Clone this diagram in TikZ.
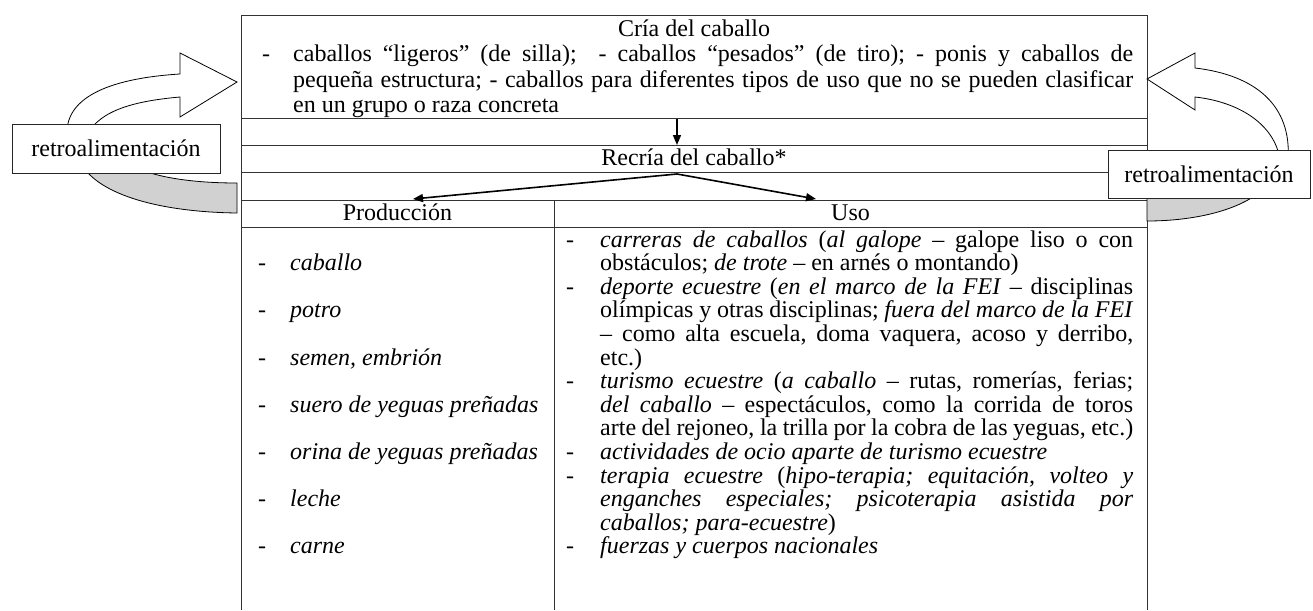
\documentclass[tikz,border=0pt]{standalone}
\usepackage{fontspec}
\setmainfont{Liberation Serif}
\usetikzlibrary{arrows.meta}
\newcommand\bodyfont{\fontsize{24pt}{24pt}\selectfont}
\newcommand\jus[2]{\makebox[#1][s]{#2}}
\frenchspacing
\begin{document}
\begin{tikzpicture}[x=1pt,y=-1pt,
  txt/.style={inner sep=0pt, anchor=base west, font=\bodyfont},
  ctr/.style={inner sep=0pt, anchor=base, font=\bodyfont},
  tline/.style={draw=black!80, line width=0.9pt},
  shapeline/.style={draw=black, line width=0.8pt},
  retrobox/.style={draw=black!85, line width=0.9pt, fill=white, inner sep=0pt, font=\bodyfont},
  arr/.style={line width=1.6pt, -{Triangle[length=10pt,width=8pt]}}]
\useasboundingbox (0,0) rectangle (1313,610);
% table frame
\draw[tline] (241,610) -- (241,15) -- (1147,15) -- (1147,610);
\foreach \yy in {118,145,172,200,227} \draw[tline] (241,\yy) -- (1147,\yy);
\draw[tline] (554,200) -- (554,610);
% left feedback arrow
\draw[shapeline, fill=black!18] (237,183) -- (237,213) .. controls (160,212) and (100,195) .. (82,165) -- (130,165) .. controls (155,178) and (195,183) .. (237,183) -- cycle;
\draw[shapeline, fill=white] (67,135) .. controls (65,95) and (115,78) .. (180,74) -- (180,53) -- (237,82) -- (180,117) -- (180,97) .. controls (135,101) and (100,110) .. (87,135) -- cycle;
\node[retrobox, minimum width=208pt, minimum height=49pt] (retroL) at (116,148.5) {retroalimentación};
% right feedback arrow
\draw[shapeline, fill=black!18] (1147,190) -- (1147,221) .. controls (1195,221) and (1240,210) .. (1262,190) -- cycle;
\draw[shapeline, fill=white] (1195,68) .. controls (1255,75) and (1292,105) .. (1288,160) -- (1280,160) .. controls (1275,125) and (1240,102) .. (1195,97) -- (1195,110) -- (1147,79) -- (1195,53) -- cycle;
\node[retrobox, minimum width=202pt, minimum height=48pt] (retroR) at (1209,174) {retroalimentación};
% top cell
\node[ctr] (cria) at (694,37) {Cría del caballo};
\node[txt] (d0) at (262,62) {-};
\node[txt] (t1) at (293,62) {\jus{840pt}{caballos “ligeros” (de silla);\ \ - caballos “pesados” (de tiro); - ponis y caballos de}};
\node[txt] (t2) at (293,87) {\jus{840pt}{pequeña estructura; - caballos para diferentes tipos de uso que no se pueden clasificar}};
\node[txt] (t3) at (293,112) {en un grupo o raza concreta};
% middle
\node[ctr] (recria) at (694,165) {Recría del caballo*};
\node[ctr] (prod) at (397.5,220) {Producción};
\node[ctr] (uso) at (850.5,220) {Uso};
\coordinate (c1) at (677,118.5);
\coordinate (c2) at (677,145);
\coordinate (fork) at (677,174);
\coordinate (pt) at (413,199);
\coordinate (ut) at (816,199);
\draw[arr] (c1) -- (c2);
\draw[line width=1.6pt, -{Triangle[length=10pt,width=8pt]}] (fork) -- (pt);
\draw[line width=1.6pt, -{Triangle[length=10pt,width=8pt]}] (fork) -- (ut);
% left column
\foreach \yy/\tt [count=\i] in {270.6/caballo, 317.8/potro, 365/{semen, embrión}, 412.2/suero de yeguas preñadas, 459.4/orina de yeguas preñadas, 506.6/leche, 553.8/carne} {
  \node[txt] (ld\i) at (258,\yy) {-};
  \node[txt] (li\i) at (290,\yy) {\textit{\tt}};
}
% right column
\node[txt] (rd1) at (566,247) {-};
\node[txt] (r1) at (600,247) {\jus{533pt}{\textit{carreras de caballos} (\textit{al galope} – galope liso o con}};
\node[txt] (r2) at (600,270.6) {obstáculos; \textit{de trote} – en arnés o montando)};
\node[txt] (rd3) at (566,294.2) {-};
\node[txt] (r3) at (600,294.2) {\jus{533pt}{\textit{deporte ecuestre} (\textit{en el marco de la FEI} – disciplinas}};
\node[txt] (r4) at (600,317.8) {\jus{533pt}{olímpicas y otras disciplinas; \textit{fuera del marco de la FEI}}};
\node[txt] (r5) at (600,341.4) {\jus{533pt}{– como alta escuela, doma vaquera, acoso y derribo,}};
\node[txt] (r6) at (600,365) {etc.)};
\node[txt] (rd7) at (566,388.6) {-};
\node[txt] (r7) at (600,388.6) {\jus{533pt}{\textit{turismo ecuestre} (\textit{a caballo} – rutas, romerías, ferias;}};
\node[txt] (r8) at (600,412.2) {\jus{533pt}{\textit{del caballo} – espectáculos, como la corrida de toros}};
\node[txt] (r9) at (600,435.8) {\jus{533pt}{arte del rejoneo, la trilla por la cobra de las yeguas, etc.)}};
\node[txt] (rd10) at (566,459.4) {-};
\node[txt] (r10) at (600,459.4) {\textit{actividades de ocio aparte de turismo ecuestre}};
\node[txt] (rd11) at (566,483) {-};
\node[txt] (r11) at (600,483) {\jus{533pt}{\textit{terapia ecuestre} (\textit{hipo-terapia; equitación, volteo y}}};
\node[txt] (r12) at (600,506.6) {\jus{533pt}{\textit{enganches especiales; psicoterapia asistida por}}};
\node[txt] (r13) at (600,530.2) {\textit{caballos; para-ecuestre})};
\node[txt] (rd14) at (566,553.8) {-};
\node[txt] (r14) at (600,553.8) {\textit{fuerzas y cuerpos nacionales}};
\end{tikzpicture}
\end{document}
